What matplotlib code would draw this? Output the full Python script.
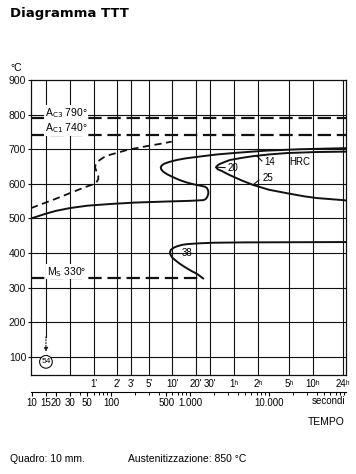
import numpy as np
import matplotlib.pyplot as plt
from matplotlib.ticker import FixedLocator, LogLocator, NullFormatter

plt.rcParams['font.family'] = ['Liberation Sans', 'DejaVu Sans']

# limits of the plotting frame (seconds, degrees C)
t_min, t_max = 9.7, 94400
T_min, T_max = 48, 900

# critical temperatures
Ac3 = 790
Ac1 = 740
Ms = 327

# dashed curve (start of ferrite)
ferr_t = [t_min, 20, 30, 45, 59.7, 66, 69, 69, 67.5, 65, 63, 63.5, 66, 71, 80, 97, 130, 160, 254, 455, 586]
ferr_T = [530, 557, 573, 589, 599, 606, 614, 622, 630, 638, 646, 654, 661, 668, 676, 684, 692, 698, 707, 717, 722]

# outer curve: start of transformation
outer_t = [t_min, 15, 20, 30, 50, 100, 200, 500, 1000, 1472, 1580, 1660, 1706, 1700, 1640, 1540,
           1339, 1100, 908, 740, 615, 520, 459, 432, 426, 438, 470, 540, 679, 900, 1339, 2200,
           3532, 6000, 9355, 24660, 87300, t_max]
outer_T = [500, 514, 522, 530, 537, 542, 546, 549, 551, 553, 556, 563, 572, 580, 588, 592,
           595, 599, 604, 611, 619, 627, 635, 642, 648, 653, 658, 663, 669, 674, 679, 685,
           689, 693, 696, 700, 703, 703]

# inner curve: end of transformation
inner_t = [t_max, 87300, 40000, 16900, 10000, 6270, 4500, 3210, 2800, 2540, 2400, 2250, 2130,
           2250, 2540, 2900, 3210, 4500, 6270, 10000, 16900, 28000, 40500, 87300, t_max]
inner_T = [693, 693, 692, 689, 685, 680, 675, 669, 664, 660, 658, 654, 648,
           642, 637, 630, 625, 610, 597, 583, 573, 564, 559, 553, 552]

# lower curve (bainite)
bain_t = [t_max, 5000, 1955, 1227, 916, 800, 690, 627, 574, 558, 562, 580, 609, 680, 747, 830,
          916, 1050, 1227, 1350, 1462]
bain_T = [432, 431, 430, 428, 426, 424, 420, 416, 410, 403, 397, 391, 385, 376, 369, 362,
          356, 348, 340, 333, 327]

# hardness labels: text, text position, leader start, leader end
hrc_text = ['14', '20', '25', '38']
hrc_pos = [(10300, 663), (3500, 646), (9700, 618), (929, 400)]
hrc_lead = [((7050, 680), (8150, 666)), ((2180, 648), (2770, 647)),
            ((6270, 597), (7460, 611)), ((592, 400), (705, 400))]

# grid and tick labels
grid_T = [100, 200, 300, 400, 500, 600, 700, 800]
grid_t = [30, 60, 120, 180, 300, 600, 1200, 1800, 3600, 7200, 18000, 36000, 86400]
min_ticks = [60, 120, 180, 300, 600, 1200, 1800, 3600, 7200, 18000, 36000, 86400]
min_labels = ["1'", "2'", "3'", "5'", "10'", "20'", "30'", "1ʰ", "2ʰ", "5ʰ", "10ʰ", "24ʰ"]
sec_ticks = [10, 15, 20, 30, 50, 100, 500, 1000, 10000]
sec_labels = ['10', '15', '20', '30', '50', '100', '500', '1.000', '10.000']
y_ticks = [100, 200, 300, 400, 500, 600, 700, 800, 900]

# cooling curve at 15 s
cool_t = 15
cool_solid = 158
cool_arrow = (158, 115)
cool_hard = ('54', 86)

W, H = 356, 474
fig = plt.figure(figsize=(W / 100, H / 100), dpi=100)
ax = fig.add_axes([31 / W, 1 - 375 / H, 315 / W, 295 / H])
ax.set_xscale('log')
ax.set_xlim(t_min, t_max)
ax.set_ylim(T_min, T_max)

k = '#111111'
for T in grid_T:
    ax.axhline(T, color=k, lw=0.8, zorder=1)
for t in grid_t:
    ax.axvline(t, color=k, lw=0.8, zorder=1)
ax.plot([cool_t, cool_t], [T_max, cool_solid], color=k, lw=0.8, zorder=1)
ax.annotate('', xy=(cool_t, cool_arrow[1]), xytext=(cool_t, cool_arrow[0]),
            arrowprops=dict(arrowstyle='-|>', color=k, lw=0.8, linestyle=(0, (1, 1.5)),
                            mutation_scale=6, shrinkA=0, shrinkB=0))
ax.text(cool_t, cool_hard[1], cool_hard[0], ha='center', va='center', fontsize=6,
        bbox=dict(boxstyle='circle,pad=0.2', fc='white', ec=k, lw=0.8), zorder=4)

# critical lines
ax.axhline(Ac3, color=k, lw=1.6, ls=(0, (6, 2.6)), zorder=2)
ax.axhline(Ac1, color=k, lw=1.6, ls=(0, (6, 2.6)), zorder=2)
ax.plot([t_min, bain_t[-1]], [Ms, Ms], color=k, lw=1.6, ls=(0, (6, 2.6)), zorder=2)

lab_bbox = dict(fc='white', ec='none', pad=0.5)
ax.text(14.6, 805, r'A$_{\mathrm{C3}}$ 790°', fontsize=7.5, va='center', bbox=lab_bbox, zorder=3)
ax.text(14.6, 761, r'A$_{\mathrm{C1}}$ 740°', fontsize=7.5, va='center', bbox=lab_bbox, zorder=3)
ax.text(15.4, 346, r'M$_{\mathrm{S}}$ 330°', fontsize=7.5, va='center', bbox=lab_bbox, zorder=3)

# transformation curves
ax.plot(ferr_t, ferr_T, color=k, lw=1.3, ls=(0, (4, 2.5)), zorder=3)
ax.plot(outer_t, outer_T, color=k, lw=1.4, zorder=3)
ax.plot(inner_t, inner_T, color=k, lw=1.4, zorder=3)
ax.plot(bain_t, bain_T, color=k, lw=1.4, zorder=3)

for txt, pos, lead in zip(hrc_text, hrc_pos, hrc_lead):
    ax.plot([lead[0][0], lead[1][0]], [lead[0][1], lead[1][1]], color=k, lw=0.8, zorder=3)
    ax.text(pos[0], pos[1], txt, fontsize=7, ha='center', va='center', zorder=4)
ax.text(24660, 664, 'HRC', fontsize=7, ha='center', va='center')

# axes styling
for s in ax.spines.values():
    s.set_linewidth(0.9)
    s.set_color(k)
ax.set_yticks(y_ticks)
ax.set_yticklabels([str(v) for v in y_ticks])
ax.tick_params(axis='y', length=2.5, width=0.8, pad=1, labelsize=7.5, colors=k)
ax.xaxis.set_major_locator(FixedLocator(min_ticks))
ax.set_xticklabels(min_labels)
ax.xaxis.set_minor_formatter(NullFormatter())
ax.tick_params(axis='x', which='both', length=0, pad=3, labelsize=7)

sec = ax.secondary_xaxis(-0.0576)
sec.xaxis.set_major_locator(FixedLocator(sec_ticks))
sec.set_xticklabels(sec_labels)
sec.xaxis.set_minor_locator(LogLocator(base=10, subs=np.arange(1, 10), numticks=20))
sec.xaxis.set_minor_formatter(NullFormatter())
sec.tick_params(axis='x', which='major', length=3, width=0.8, pad=1.5, labelsize=7)
sec.tick_params(axis='x', which='minor', length=2.5, width=0.7)
sec.spines['bottom'].set_linewidth(0.8)
ax.text(0.943, -0.088, 'secondi', transform=ax.transAxes, fontsize=7, ha='center', va='center')

fig.text(10 / W, 1 - 13 / H, 'Diagramma TTT', fontsize=9.5, weight='bold',
         family='DejaVu Sans', va='center')
fig.text(10 / W, 1 - 68 / H, '°C', fontsize=7.5, va='center')
fig.text(345 / W, 1 - 422 / H, 'TEMPO', fontsize=7.5, ha='right', va='center')
fig.text(10 / W, 1 - 459 / H, 'Quadro: 10 mm.', fontsize=7.5, va='center')
fig.text(128 / W, 1 - 459 / H, 'Austenitizzazione: 850 °C', fontsize=7.5, va='center')

fig.savefig('out.png', dpi=100, facecolor='white')
